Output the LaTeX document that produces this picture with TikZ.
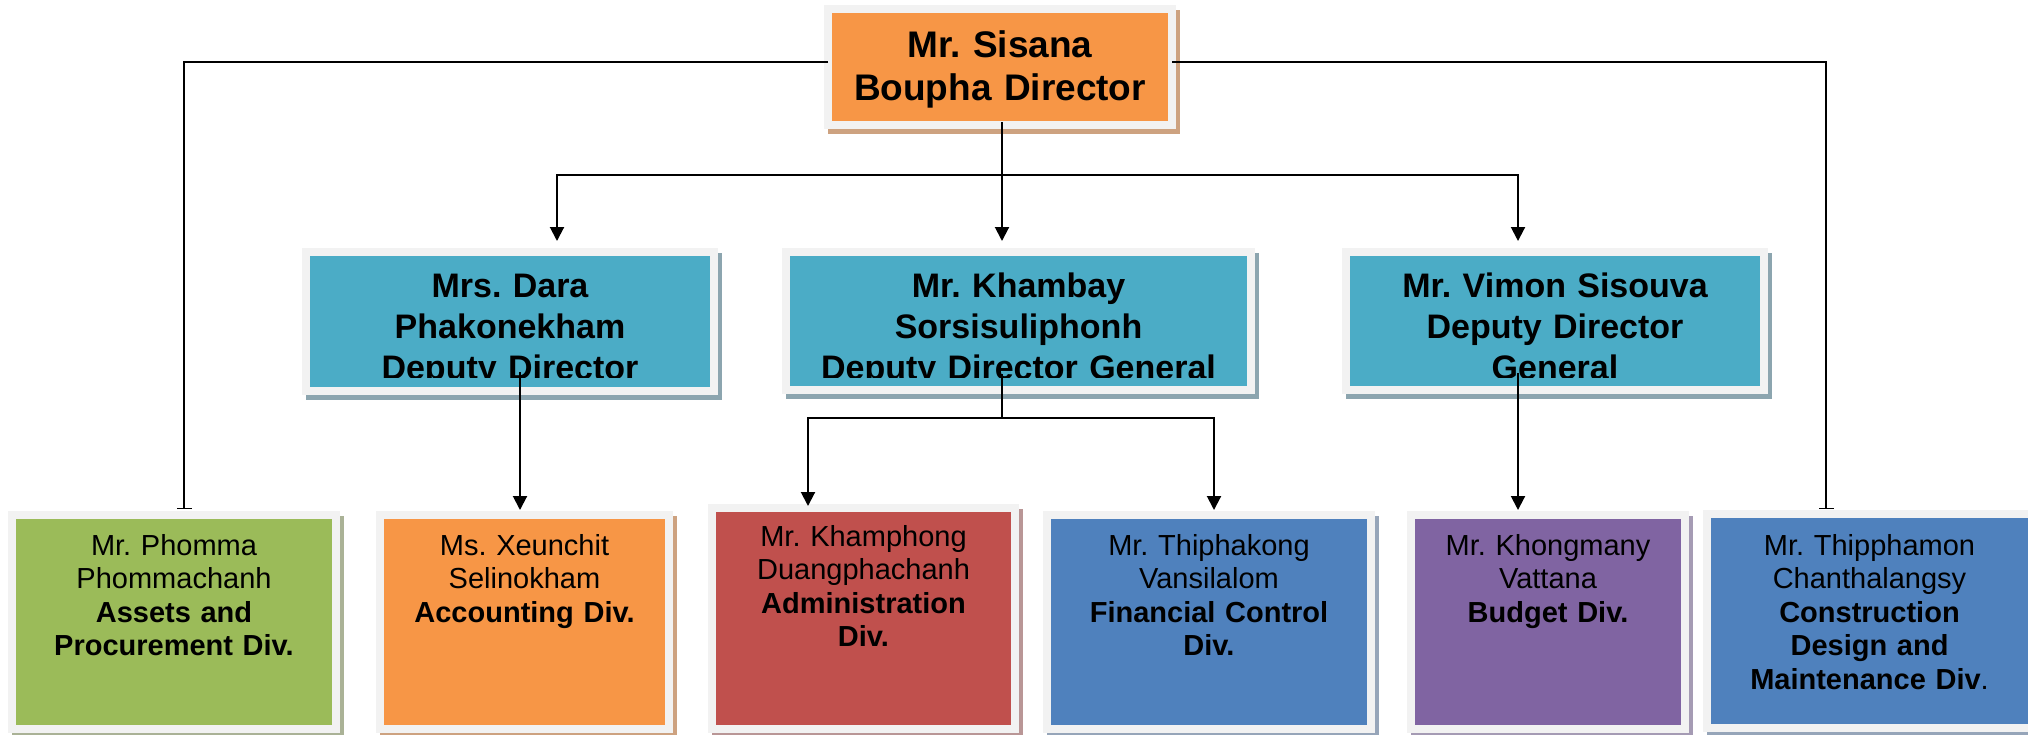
\documentclass[tikz,border=0pt]{standalone}
\usepackage{fontspec}
\setmainfont{Liberation Sans}
\usetikzlibrary{arrows.meta}
\frenchspacing

\definecolor{frameGray}{RGB}{242,242,242}
\definecolor{cOrange}{HTML}{F79646}
\definecolor{cTeal}{HTML}{4BACC6}
\definecolor{cGreen}{HTML}{9BBB59}
\definecolor{cRed}{HTML}{C0504D}
\definecolor{cBlue}{HTML}{4F81BD}
\definecolor{cPurple}{HTML}{8064A2}
\definecolor{shOrange}{RGB}{205,162,128}
\definecolor{shTeal}{RGB}{140,165,175}
\definecolor{shGreen}{RGB}{170,178,150}
\definecolor{shRed}{RGB}{185,150,150}
\definecolor{shBlue}{RGB}{150,165,185}
\definecolor{shPurple}{RGB}{165,155,180}

\begin{document}
\begin{tikzpicture}[x=1pt,y=-1pt,
  box/.style={rectangle, draw=frameGray, line width=8pt, inner sep=0pt, outer sep=0pt},
  shadowed/.style={preaction={draw=#1, fill=#1, line width=8pt,
      transform canvas={shift={(4pt,-5pt)}}}},
  toptext/.style={anchor=base, inner sep=0pt, align=center, text width=336pt,
      font={\fontsize{37}{43}\selectfont\bfseries\frenchspacing}},
  deptext/.style={anchor=base, inner sep=0pt, align=center, text width=460pt,
      font={\fontsize{34}{41}\selectfont\bfseries\frenchspacing}},
  divtext/.style={anchor=base, inner sep=0pt, align=center, text width=320pt,
      font={\fontsize{29}{33.5}\selectfont\frenchspacing}},
  conn/.style={line width=2pt, draw=black},
  arr/.style={conn, -{Triangle[length=14pt,width=14pt]}},
  barend/.style={conn, -{Bar[width=15pt,line width=1.2pt]}}]

\useasboundingbox (0,0) rectangle (2028,734);
\clip (0,0) rectangle (2028,734);

% director
\node[box, shadowed=shOrange, fill=cOrange, minimum width=344pt, minimum height=116pt] (dir) at (1000,67) {};

% deputies
\node[box, shadowed=shTeal, fill=cTeal, minimum width=408pt, minimum height=139pt] (d1) at (510,321.5) {};
\node[box, shadowed=shTeal, fill=cTeal, minimum width=465pt, minimum height=138pt] (d2) at (1018.5,321) {};
\node[box, shadowed=shTeal, fill=cTeal, minimum width=418pt, minimum height=138pt] (d3) at (1555,321) {};

% divisions
\node[box, shadowed=shGreen, fill=cGreen, minimum width=324pt, minimum height=214pt] (b1) at (174,622) {};
\node[box, shadowed=shOrange, fill=cOrange, minimum width=289pt, minimum height=214pt] (b2) at (524.5,622) {};
\node[box, shadowed=shRed, fill=cRed, minimum width=303pt, minimum height=221pt] (b3) at (863.5,618.5) {};
\node[box, shadowed=shBlue, fill=cBlue, minimum width=324pt, minimum height=214pt] (b4) at (1209,622) {};
\node[box, shadowed=shPurple, fill=cPurple, minimum width=274pt, minimum height=214pt] (b5) at (1548,622) {};
\node[box, shadowed=shBlue, fill=cBlue, minimum width=325pt, minimum height=214pt] (b6) at (1869.5,621) {};

% texts
\node[toptext] (tdir) at (1000,57) {Mr. Sisana\\Boupha Director};

\begin{scope}
  \clip (310,256) rectangle (710,377);
  \node[deptext] (td1) at (510,297) {Mrs. Dara\\Phakonekham\\Deputy Director};
\end{scope}
\begin{scope}
  \clip (790,256) rectangle (1247,377);
  \node[deptext] (td2) at (1018.5,297) {Mr. Khambay\\Sorsisuliphonh\\Deputy Director General};
\end{scope}
\begin{scope}
  \clip (1350,256) rectangle (1760,377);
  \node[deptext] (td3) at (1555,297) {Mr. Vimon Sisouva\\Deputy Director\\General};
\end{scope}

\node[divtext] (tb1) at (174,555) {Mr. Phomma\\Phommachanh\\\textbf{Assets and}\\\textbf{Procurement Div.}};
\node[divtext] (tb2) at (524.5,555) {Ms. Xeunchit\\Selinokham\\\textbf{Accounting Div.}};
\node[divtext] (tb3) at (863.5,546) {Mr. Khamphong\\Duangphachanh\\\textbf{Administration}\\\textbf{Div.}};
\node[divtext] (tb4) at (1209,555) {Mr. Thiphakong\\Vansilalom\\\textbf{Financial Control}\\\textbf{Div.}};
\node[divtext] (tb5) at (1548,555) {Mr. Khongmany\\Vattana\\\textbf{Budget Div.}};
\node[divtext] (tb6) at (1869.5,555) {Mr. Thipphamon\\Chanthalangsy\\\textbf{Construction}\\\textbf{Design and}\\\textbf{Maintenance Div}.};

% connector end points
\coordinate (dirL) at ([yshift=5pt]dir.west);
\coordinate (dirR) at ([yshift=5pt]dir.east);
\coordinate (dirB) at ([xshift=2pt,yshift=3pt]dir.south);
\coordinate (busA) at ([yshift=-53pt]dirB);
\coordinate (d1B) at ([xshift=10pt,yshift=-50.5pt]d1.center);
\coordinate (d2B) at ([xshift=-16.5pt,yshift=-53pt]d2.center);
\coordinate (busB) at ([yshift=-44pt]d2B);
\coordinate (d3B) at ([xshift=-37pt,yshift=-52pt]d3.center);

% director to side divisions
\draw[barend] (dirL) -| ([xshift=10pt,yshift=6pt]b1.north);
\draw[barend] (dirR) -| ([xshift=-43.5pt,yshift=5pt]b6.north);

% director to deputies
\draw[conn] (dirB) -- (busA);
\draw[arr] (busA) -| ([xshift=47pt,yshift=11pt]d1.north);
\draw[arr] (busA) -- ([xshift=-16.5pt,yshift=11pt]d2.north);
\draw[arr] (busA) -| ([xshift=-37pt,yshift=11pt]d3.north);

% deputies to divisions
\draw[arr] (d1B) -- ([xshift=-4.5pt,yshift=5pt]b2.north);
\draw[conn] (d2B) -- (busB);
\draw[arr] (busB) -| ([xshift=-55.5pt,yshift=2pt]b3.north);
\draw[arr] (busB) -| ([xshift=5pt,yshift=5pt]b4.north);
\draw[arr] (d3B) -- ([xshift=-30pt,yshift=5pt]b5.north);
\end{tikzpicture}
\end{document}
